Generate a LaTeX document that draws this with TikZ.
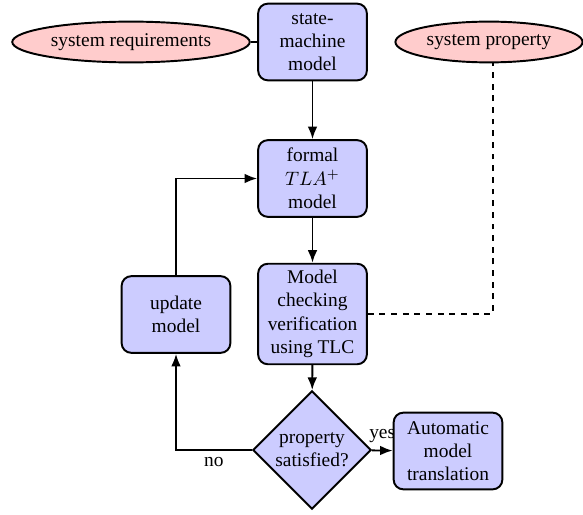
\documentclass[tikz,border=0pt]{standalone}
\usepackage{fontspec}
\setmainfont{Liberation Serif}
\usetikzlibrary{shapes, arrows.meta, backgrounds}

\tikzset{
  block/.style={rectangle, draw, line width=1pt, fill=blue!20, rounded corners=5pt,
    minimum width=56pt, minimum height=39.5pt, align=center},
  spec/.style={ellipse, draw, line width=1pt, fill=red!20, minimum height=21pt,
    inner sep=2pt},
  decision/.style={diamond, draw, line width=1pt, fill=blue!20, aspect=1,
    minimum size=61pt, inner sep=0pt, align=center},
  flow/.style={draw, line width=1pt, -{Latex[length=6.5pt, width=5pt]}},
}

\begin{document}
\begin{tikzpicture}[x=0.515pt, y=-0.515pt]
\useasboundingbox (0,0) rectangle (583,514);
\node[spec] (req) at (131,42) {system requirements};
\node[block] (sm) at (312.5,42) {state-\\machine\\model};
\node[spec] (prop) at (489,42) {system property};
\node[block] (formal) at (312.5,178.5) {formal\\$TLA^+$\\model};
\node[block] (mc) at (312.5,314) {Model\\checking\\verification\\using TLC};
\node[block] (upd) at (176,314.5) {update\\model};
\node[decision] (dec) at (312,450) {property\\satisfied?};
\node[block] (auto) at (448,451) {Automatic\\model\\translation};
\draw[line width=1pt] (req) -- (sm);
\path[flow] (sm) -- (formal);
\path[flow] (formal) -- (mc);
\path[flow] (mc) -- (dec);
\path[flow] (dec.west) -| node[pos=0.25, below] {no} (upd.south);
\path[flow] (upd.north) |- (formal.west);
\draw[line width=1pt, dashed] (mc.east) -| ([xshift=2pt]prop.south);
% label partly hidden by the box
\begin{scope}[on background layer]
\path[flow] (dec) -- node[above] {yes} (auto);
\end{scope}
\end{tikzpicture}
\end{document}
